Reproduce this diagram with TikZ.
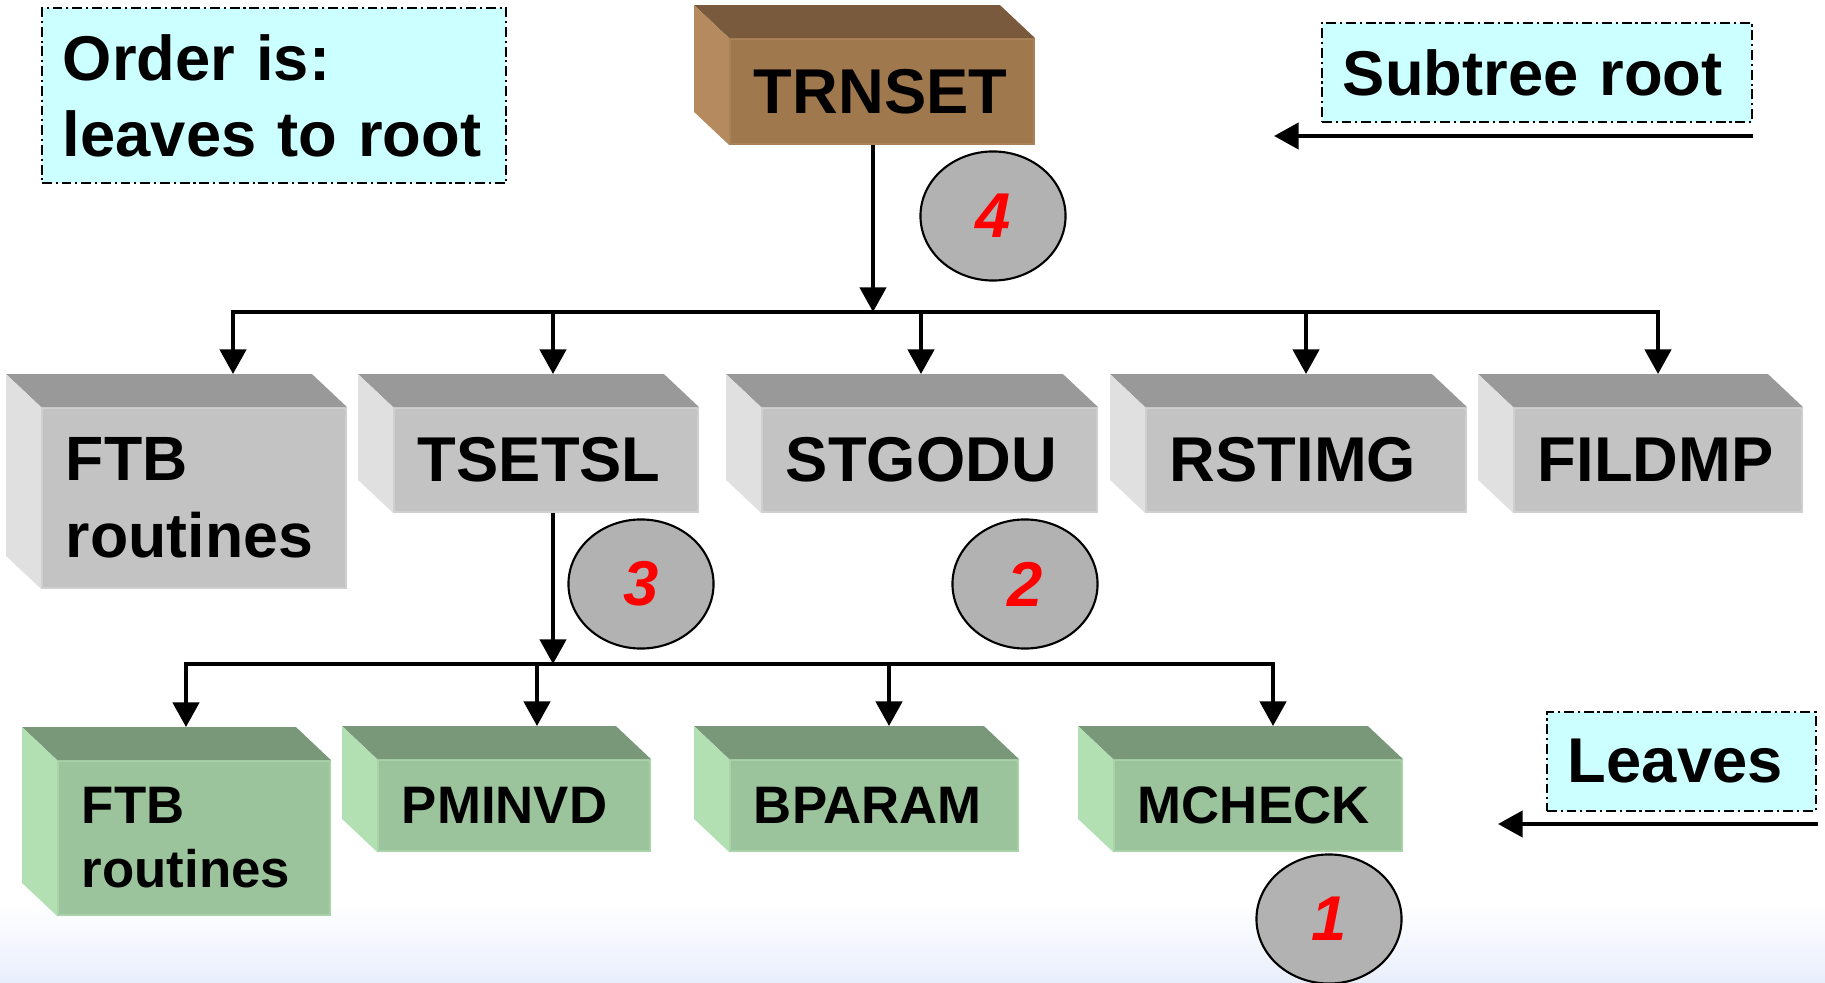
\documentclass[tikz,border=0pt]{standalone}
\usepackage{fontspec}
\setmainfont{Liberation Sans}
\usetikzlibrary{arrows.meta,shapes.geometric}
\definecolor{gfront}{HTML}{C3C3C3}
\definecolor{gtop}{HTML}{999999}
\definecolor{gside}{HTML}{E0E0E0}
\definecolor{gedge}{HTML}{CFCFCF}
\definecolor{nfront}{HTML}{9CC49C}
\definecolor{ntop}{HTML}{799879}
\definecolor{nside}{HTML}{B2E0B2}
\definecolor{nedge}{HTML}{A9D2A9}
\definecolor{bfront}{HTML}{A0784E}
\definecolor{btop}{HTML}{7A5A3D}
\definecolor{bside}{HTML}{B48A5E}
\definecolor{bedge}{HTML}{AA8258}
\definecolor{legfill}{HTML}{CCFFFF}
\definecolor{numfill}{HTML}{B2B2B2}
\definecolor{bgblue}{HTML}{E8EEFB}
\newcommand{\boxsides}[3]{%
  \fill[#2] (#1.north west) -- (#1.north east) -- ([shift={(-0.35cm,0.33cm)}]#1.north east) -- ([shift={(-0.35cm,0.33cm)}]#1.north west) -- cycle;
  \fill[#3] (#1.north west) -- (#1.south west) -- ([shift={(-0.35cm,0.33cm)}]#1.south west) -- ([shift={(-0.35cm,0.33cm)}]#1.north west) -- cycle;
  \coordinate (#1-top) at ([yshift=0.33cm]#1.north);
}
\begin{document}
\begin{tikzpicture}[x=0.01cm,y=-0.01cm,
  face/.style={rectangle, inner xsep=0.24cm, inner ysep=0pt, align=left, line width=0.5pt,
    font=\bfseries\fontsize{18}{21.6}\selectfont},
  greyface/.style={face, fill=gfront, draw=gedge},
  greenface/.style={face, fill=nfront, draw=nedge, font=\bfseries\fontsize{15}{18.2}\selectfont},
  brownface/.style={face, fill=bfront, draw=bedge},
  bus/.style={line width=1.2pt},
  arr/.style={line width=1.2pt, -{Triangle[width=7.4pt,length=7pt]}},
  legend/.style={rectangle, fill=legfill, draw=black, line width=0.6pt,
    dash pattern=on 2.8pt off 1.1pt on 0.6pt off 1.1pt,
    inner xsep=0.21cm, inner ysep=0pt, align=left,
    font=\bfseries\fontsize{18}{21.6}\selectfont},
  num/.style={ellipse, fill=numfill, draw=black, line width=0.6pt,
    minimum width=1.45cm, minimum height=1.29cm, inner sep=0pt, text=red,
    font=\bfseries\itshape\fontsize{18}{20}\selectfont}
]
\useasboundingbox (0,0) rectangle (1825,983);
\shade[top color=white, bottom color=bgblue] (0,905) rectangle (1825,983);

% root
\node[brownface, text width=2.56cm, minimum height=1.05cm] (trn) at (882,91.5) {TRNSET};
\boxsides{trn}{btop}{bside}

% middle row
\node[greyface, text width=2.56cm, minimum height=1.80cm,
      font=\bfseries\fontsize{17.8}{21.9}\selectfont] (ftba) at (194,498) {FTB\\routines};
\boxsides{ftba}{gtop}{gside}
\node[greyface, text width=2.56cm, minimum height=1.04cm] (tset) at (546,460) {TSETSL};
\boxsides{tset}{gtop}{gside}
\node[greyface, text width=2.87cm, minimum height=1.04cm] (stg) at (929.5,460) {STGODU};
\boxsides{stg}{gtop}{gside}
\node[greyface, text width=2.72cm, minimum height=1.04cm] (rst) at (1306,460) {RSTIMG};
\boxsides{rst}{gtop}{gside}
\node[greyface, text width=2.40cm, minimum height=1.04cm] (fil) at (1658,460) {FILDMP};
\boxsides{fil}{gtop}{gside}

% bottom row
\node[greenface, text width=2.24cm, minimum height=1.54cm] (ftbb) at (194,838) {FTB\\routines};
\boxsides{ftbb}{ntop}{nside}
\node[greenface, text width=2.24cm, minimum height=0.91cm] (pmi) at (514,805.5) {PMINVD};
\boxsides{pmi}{ntop}{nside}
\node[greenface, text width=2.40cm, minimum height=0.91cm] (bpa) at (874,805.5) {BPARAM};
\boxsides{bpa}{ntop}{nside}
\node[greenface, text width=2.40cm, minimum height=0.91cm] (mch) at (1258,805.5) {MCHECK};
\boxsides{mch}{ntop}{nside}

% legends
\node[legend, text width=4.22cm, minimum height=1.75cm] (ord) at (274,95.5) {Order is:\\\mbox{leaves to root}};
\node[legend, text width=3.88cm, minimum height=0.99cm] (sub) at (1537,72.5) {\mbox{Subtree root}};
\node[legend, text width=2.27cm, minimum height=0.99cm] (lea) at (1681.5,761.5) {Leaves};

\coordinate (subtail) at (1753,136);
\coordinate (subhead) at (1274,136);
\draw[arr] (subtail) -- (subhead);
\coordinate (leatail) at (1818,824);
\coordinate (leahead) at (1498,824);
\draw[arr] (leatail) -- (leahead);

% order circles
\node[num] (c4) at (993,216) {4};
\node[num] (c3) at (641,584) {3};
\node[num] (c2) at (1025,584) {2};
\node[num] (c1) at (1329,919) {1};

% upper connectors
\coordinate (b0) at (873,312);
\draw[arr] (trn.south -| b0) -- (b0);
\coordinate (m1) at (233,312);
\coordinate (m2) at (553,312);
\coordinate (m3) at (921,312);
\coordinate (m4) at (1306,312);
\coordinate (m5) at (1658,312);
\draw[bus] (m1) -- (m5);
\draw[arr] (m2) -- (m1) -- (m1 |- ftba-top);
\draw[arr] (m2) -- (m2 |- tset-top);
\draw[arr] (m3) -- (m3 |- stg-top);
\draw[arr] (m4) -- (m4 |- rst-top);
\draw[arr] (m4) -- (m5) -- (m5 |- fil-top);

% lower connectors
\coordinate (lt) at (553,664);
\draw[arr] (tset.south -| lt) -- (lt);
\coordinate (l1) at (186,664);
\coordinate (l2) at (537,664);
\coordinate (l3) at (889,664);
\coordinate (l4) at (1273,664);
\draw[bus] (l1) -- (l4);
\draw[arr] (l2) -- (l1) -- (l1 |- ftbb-top);
\draw[arr] (l2) -- (l2 |- pmi-top);
\draw[arr] (l3) -- (l3 |- bpa-top);
\draw[arr] (l3) -- (l4) -- (l4 |- mch-top);
\end{tikzpicture}
\end{document}
